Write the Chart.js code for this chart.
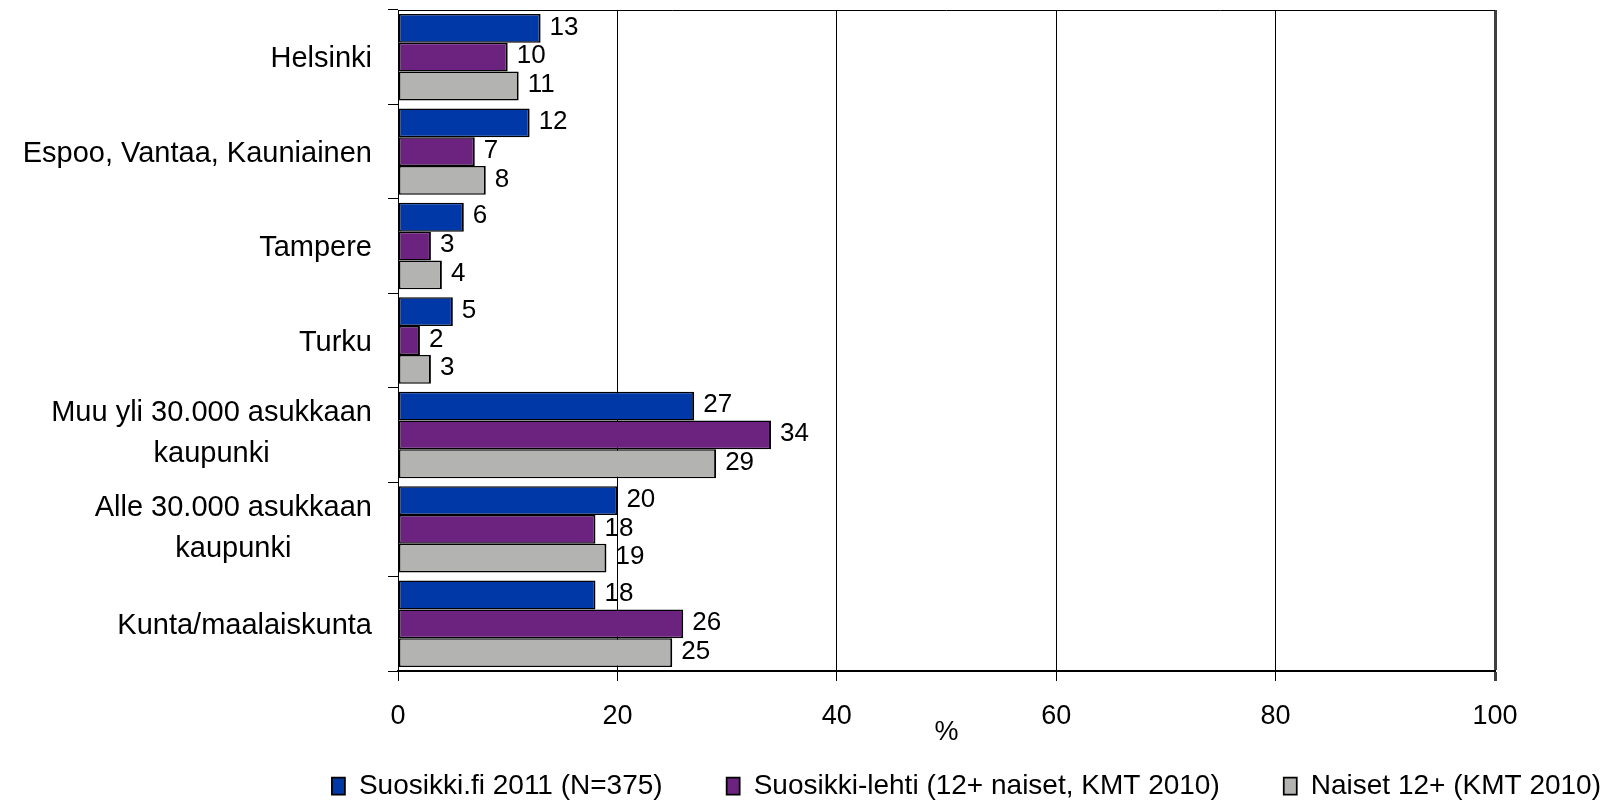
<!DOCTYPE html>
<html>
<head>
<meta charset="utf-8">
<script src="https://cdn.jsdelivr.net/npm/chart.js@4.4.0/dist/chart.umd.min.js"></script>
<style>
html,body{margin:0;padding:0;background:#fff;}
#wrap{width:1608px;height:800px;position:relative;}
</style>
</head>
<body>
<div id="wrap"><canvas id="c" width="1608" height="800"></canvas></div>
<script>
const categories = [
  ["Helsinki"],
  ["Espoo, Vantaa, Kauniainen"],
  ["Tampere"],
  ["Turku"],
  ["Muu yli 30.000 asukkaan", "kaupunki"],
  ["Alle 30.000 asukkaan", "kaupunki"],
  ["Kunta/maalaiskunta"]
];
const seriesNames = [
  "Suosikki.fi 2011 (N=375)",
  "Suosikki-lehti (12+ naiset, KMT 2010)",
  "Naiset 12+ (KMT 2010)"
];
const suosikkiFi = [13, 12, 6, 5, 27, 20, 18];
const suosikkiLehti = [10, 7, 3, 2, 34, 18, 26];
const naiset12 = [11, 8, 4, 3, 29, 19, 25];
const xMin = 0, xMax = 100, xStep = 20;
const axisTitle = "%";

const FONT = '"Liberation Sans", Arial, sans-serif';
const colors = ["#0038A8", "#6C2380", "#B3B4B2"];
const seriesData = [suosikkiFi, suosikkiLehti, naiset12];

const categoryLabelsPlugin = {
  id: 'categoryLabels',
  afterDraw(chart) {
    const ys = chart.scales.y;
    const ctx = chart.ctx;
    ctx.save();
    ctx.font = '29px ' + FONT;
    ctx.fillStyle = '#000';
    ctx.textBaseline = 'middle';
    ctx.textAlign = 'center';
    const rightEdge = ys.right - 26;
    const lh = 41;
    categories.forEach((lines, i) => {
      const cy = ys.getPixelForTick(i);
      let maxW = 0;
      lines.forEach(l => { maxW = Math.max(maxW, ctx.measureText(l).width); });
      const cx = rightEdge - maxW / 2;
      const n = lines.length;
      lines.forEach((l, j) => {
        const y = cy + (j - (n - 1) / 2) * lh + (n > 1 ? -1 : 2);
        ctx.fillText(l, cx, y);
      });
    });
    ctx.restore();
  }
};

const valueLabelsPlugin = {
  id: 'valueLabels',
  afterDatasetsDraw(chart) {
    const ctx = chart.ctx;
    ctx.save();
    ctx.font = '26px ' + FONT;
    ctx.fillStyle = '#000';
    ctx.textBaseline = 'middle';
    ctx.textAlign = 'left';
    chart.data.datasets.forEach((ds, di) => {
      const meta = chart.getDatasetMeta(di);
      meta.data.forEach((bar, i) => {
        ctx.fillText(String(ds.data[i]), bar.x + 9, bar.y - 1);
      });
    });
    ctx.restore();
  }
};

const frameTopPlugin = {
  id: 'frameTop',
  afterDraw(chart) {
    const a = chart.chartArea;
    const ctx = chart.ctx;
    ctx.save();
    ctx.strokeStyle = '#000';
    ctx.lineWidth = 1;
    ctx.beginPath();
    ctx.moveTo(a.left, a.top + 0.5);
    ctx.lineTo(a.right, a.top + 0.5);
    ctx.stroke();
    ctx.restore();
  }
};

new Chart(document.getElementById('c'), {
  type: 'bar',
  data: {
    labels: categories,
    datasets: seriesNames.map((name, i) => ({
      label: name,
      data: seriesData[i],
      backgroundColor: colors[i],
      borderColor: '#000',
      borderWidth: {top: 1.5, bottom: 1.5, left: 2, right: 2},
      borderSkipped: false,
      categoryPercentage: 0.915,
      barPercentage: 1.0
    }))
  },
  options: {
    indexAxis: 'y',
    responsive: false,
    animation: false,
    devicePixelRatio: 1,
    layout: {padding: {left: 0, right: -57, top: 10, bottom: -10}},
    plugins: {
      legend: {
        position: 'bottom',
        align: 'end',
        labels: {
          font: {family: FONT, size: 28},
          color: '#000',
          boxWidth: 13,
          boxHeight: 17,
          padding: 64
        }
      },
      tooltip: {enabled: false}
    },
    scales: {
      x: {
        type: 'linear',
        min: xMin,
        max: xMax,
        ticks: {stepSize: xStep, font: {family: FONT, size: 27}, color: '#000', padding: 19},
        grid: {
          color: ctx => (ctx.tick && ctx.tick.value === xMax) ? '#404040' : '#000',
          lineWidth: ctx => (ctx.tick && ctx.tick.value === xMax) ? 3 : 1,
          drawTicks: true,
          tickLength: 10
        },
        border: {color: '#000', width: 2},
        title: {
          display: true,
          text: axisTitle,
          font: {family: FONT, size: 27},
          color: '#000',
          padding: {top: 0, bottom: -41}
        },
        afterFit(s) {
          s.height = 37;
          s.paddingRight = 113;
          s._computeLabelArea = () => null;
        }
      },
      y: {
        type: 'category',
        offset: true,
        ticks: {display: false},
        grid: {drawOnChartArea: false, drawTicks: true, tickLength: 10, color: '#000', offset: true},
        border: {color: '#000', width: 1},
        afterFit(s) { s.width = 398; }
      }
    }
  },
  plugins: [categoryLabelsPlugin, valueLabelsPlugin, frameTopPlugin]
});
</script>
</body>
</html>
